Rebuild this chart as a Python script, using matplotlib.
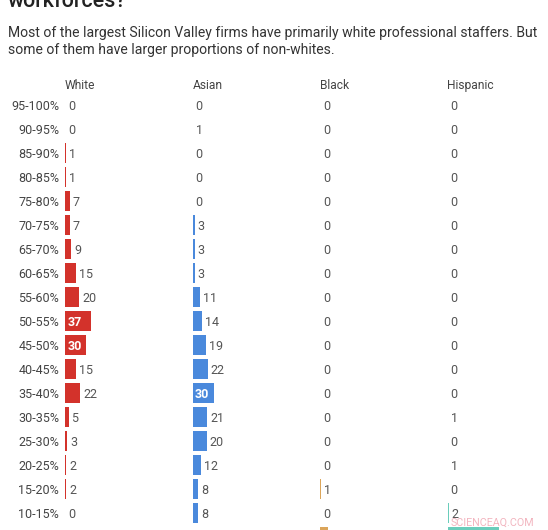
import matplotlib
matplotlib.use("Agg")
import matplotlib.pyplot as plt

plt.rcParams['font.family'] = ['Roboto', 'DejaVu Sans']

ranges = ["95-100%", "90-95%", "85-90%", "80-85%", "75-80%", "70-75%", "65-70%",
          "60-65%", "55-60%", "50-55%", "45-50%", "40-45%", "35-40%", "30-35%",
          "25-30%", "20-25%", "15-20%", "10-15%", "5-10%"]
groups = ["White", "Asian", "Black", "Hispanic"]
white = [0, 0, 1, 1, 7, 7, 9, 15, 20, 37, 30, 15, 22, 5, 3, 2, 2, 0, 0]
asian = [0, 1, 0, 0, 0, 3, 3, 3, 11, 14, 19, 22, 30, 21, 20, 12, 8, 8, 1]
black = [0, 0, 0, 0, 0, 0, 0, 0, 0, 0, 0, 0, 0, 0, 0, 0, 1, 0, 11]
hispanic = [0, 0, 0, 0, 0, 0, 0, 0, 0, 0, 0, 0, 0, 1, 0, 1, 0, 2, 73]
series = [white, asian, black, hispanic]
colors = ["#d3322b", "#4a89dc", "#dba55a", "#6acdbb"]

title = "workforces?"
subtitle_lines = ["Most of the largest Silicon Valley firms have primarily white professional staffers. But",
                  "some of them have larger proportions of non-whites."]
watermark = "SCIENCEAQ.COM"

W, H = 548, 530
fig = plt.figure(figsize=(W / 100, H / 100), dpi=100)
ax = fig.add_axes([0, 0, 1, 1])
ax.set_xlim(0, W)
ax.set_ylim(H, 0)
ax.axis('off')
renderer = fig.canvas.get_renderer()

px = 72 / 100  # points per pixel


def fit_width(t, target_px):
    """Scale a text's font so its rendered width matches the target width in pixels."""
    w = t.get_window_extent(renderer=renderer).width
    if w > 0:
        t.set_fontsize(t.get_fontsize() * target_px / w)


tt = fig.text(8 / W, 1 - 7 / H, title, fontsize=21 * px, fontweight='medium',
              color='#222222', ha='left', va='baseline')
fit_width(tt, 119)

s1 = ax.text(8, 32, subtitle_lines[0], fontsize=13.4 * px, color='#333333', ha='left',
             va='center_baseline')
fit_width(s1, 529)
s2 = ax.text(8, 48.5, subtitle_lines[1], fontsize=s1.get_fontsize(), color='#333333',
             ha='left', va='center_baseline')

col_x = [65, 192.5, 320, 447.5]
row_y0 = 105
row_step = 24
unit = 0.7
bar_h = 20
n_visible = 18  # the last row lies below the picture's edge; only its bars peek in

ys = [row_y0 + i * row_step for i in range(len(ranges))]

for j, (name, vals) in enumerate(zip(groups, series)):
    x0 = col_x[j]
    ax.text(x0, 84, name, fontsize=12 * px, color='#444444', ha='left',
            va='center_baseline')
    widths = [v * unit for v in vals]
    ax.barh(ys, widths, left=x0, height=bar_h, color=colors[j], linewidth=0)
    for y, v, w in list(zip(ys, vals, widths))[:n_visible]:
        if v >= 25:
            ax.text(x0 + 2.5, y, str(v), fontsize=12.5 * px, color='white',
                    fontweight='bold', ha='left', va='center_baseline')
        else:
            ax.text(x0 + w + 3, y, str(v), fontsize=12.5 * px, color='#555555',
                    ha='left', va='center_baseline')

for y, r in list(zip(ys, ranges))[:n_visible]:
    ax.text(59, y, r, fontsize=12.5 * px, color='#444444', ha='right',
            va='center_baseline')

wm = ax.text(451, 522, watermark, fontsize=12.5 * px, color='#f0a8b4', ha='left',
             va='center_baseline', alpha=0.85)
fit_width(wm, 84)

fig.savefig("out.png", dpi=100)
